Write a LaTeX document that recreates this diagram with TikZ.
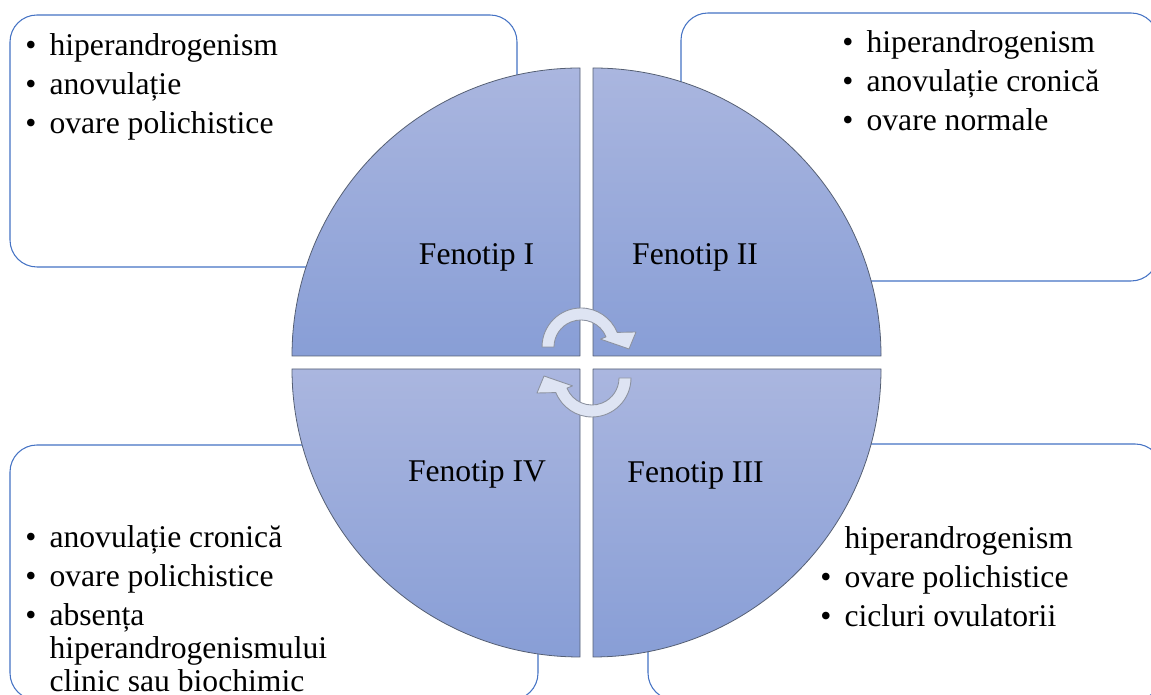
\documentclass[tikz,border=0pt]{standalone}
\usepackage{fontspec}
\setmainfont{Liberation Serif}
\usetikzlibrary{calc}

\definecolor{boxblue}{RGB}{68,114,196}
\definecolor{quadtop}{RGB}{170,182,223}
\definecolor{quadbottom}{RGB}{136,158,214}
\definecolor{quadedge}{RGB}{85,95,115}
\definecolor{arrowfill}{RGB}{222,228,243}
\definecolor{arrowedge}{RGB}{140,146,160}

\newcommand{\itemgap}{\\[3.3pt]}

\begin{document}
\begin{tikzpicture}[
    x=0.02cm,
    y=0.02cm,
    line cap=round,
    line join=round,
    infobox/.style={draw=boxblue, line width=0.6pt, fill=white, rounded corners=0.54cm},
    quadrant/.style={draw=quadedge, line width=0.45pt, top color=quadtop, bottom color=quadbottom},
    turnarrow/.style={draw=arrowedge, line width=0.5pt, fill=arrowfill},
    list text/.style={inner sep=0pt, anchor=base west, font=\fontsize{18}{18.7}\selectfont},
    phase label/.style={inner sep=0pt, anchor=base, font=\fontsize{18}{21}\selectfont}
]

\useasboundingbox (0,0) rectangle (1151,695);

% -------------------------------------------------
% Outer boxes
% -------------------------------------------------

\draw[infobox] (10,428) rectangle (517,680);
\draw[infobox] (681,414) rectangle (1158,682);
\draw[infobox] (10,-5) rectangle (538,250);
\draw[infobox] (648,-5) rectangle (1162,251);

% -------------------------------------------------
% Circle quadrants
% -------------------------------------------------

\coordinate (Otl) at (580,339);
\coordinate (Otr) at (593,339);
\coordinate (Obl) at (580,326);
\coordinate (Obr) at (593,326);

\draw[quadrant]
    (Otl) -- ++(-288,0)
    arc[start angle=180, end angle=90, radius=288] -- cycle;
\draw[quadrant]
    (Otr) -- ++(288,0)
    arc[start angle=0, end angle=90, radius=288] -- cycle;
\draw[quadrant]
    (Obl) -- ++(-288,0)
    arc[start angle=180, end angle=270, radius=288] -- cycle;
\draw[quadrant]
    (Obr) -- ++(288,0)
    arc[start angle=0, end angle=-90, radius=288] -- cycle;

\node[phase label] (fenI) at (476.5,430) {Fenotip I};
\node[phase label] (fenII) at (695,430) {Fenotip II};
\node[phase label] (fenIV) at (477,213) {Fenotip IV};
\node[phase label] (fenIII) at (695.5,212) {Fenotip III};

% -------------------------------------------------
% Turning arrows in the middle
% -------------------------------------------------

\begin{scope}[shift={(581,348)}]
    \path[turnarrow]
        (180:39) arc[start angle=180, end angle=22, radius=39]
        -- (55,15) -- (48,-2) -- (22:21) -- (22:27)
        arc[start angle=22, end angle=180, radius=27] -- cycle;
\end{scope}

\begin{scope}[shift={(592,317)}, rotate=180]
    \path[turnarrow]
        (180:39) arc[start angle=180, end angle=22, radius=39]
        -- (55,15) -- (48,-2) -- (22:21) -- (22:27)
        arc[start angle=22, end angle=180, radius=27] -- cycle;
\end{scope}

% -------------------------------------------------
% Lists
% -------------------------------------------------

\node[list text] (listI) at (25,639) {%
    \begin{tabular}[t]{@{}l@{\hspace{7.5pt}}l@{}}
    \textbullet & hiperandrogenism\itemgap
    \textbullet & anovulație\itemgap
    \textbullet & ovare polichistice
    \end{tabular}};

\node[list text] (listII) at (842,642) {%
    \begin{tabular}[t]{@{}l@{\hspace{7.5pt}}l@{}}
    \textbullet & hiperandrogenism\itemgap
    \textbullet & anovulație cronică\itemgap
    \textbullet & ovare normale
    \end{tabular}};

\node[list text] (listIII) at (820,146) {%
    \begin{tabular}[t]{@{}l@{\hspace{7.5pt}}l@{}}
    & hiperandrogenism\itemgap
    \textbullet & ovare polichistice\itemgap
    \textbullet & cicluri ovulatorii
    \end{tabular}};

\node[list text] (listIV) at (25,147) {%
    \begin{tabular}[t]{@{}l@{\hspace{7.5pt}}l@{}}
    \textbullet & anovulație cronică\itemgap
    \textbullet & ovare polichistice\itemgap
    \textbullet & absența\\
    & hiperandrogenismului\\
    & clinic sau biochimic
    \end{tabular}};

\end{tikzpicture}
\end{document}
